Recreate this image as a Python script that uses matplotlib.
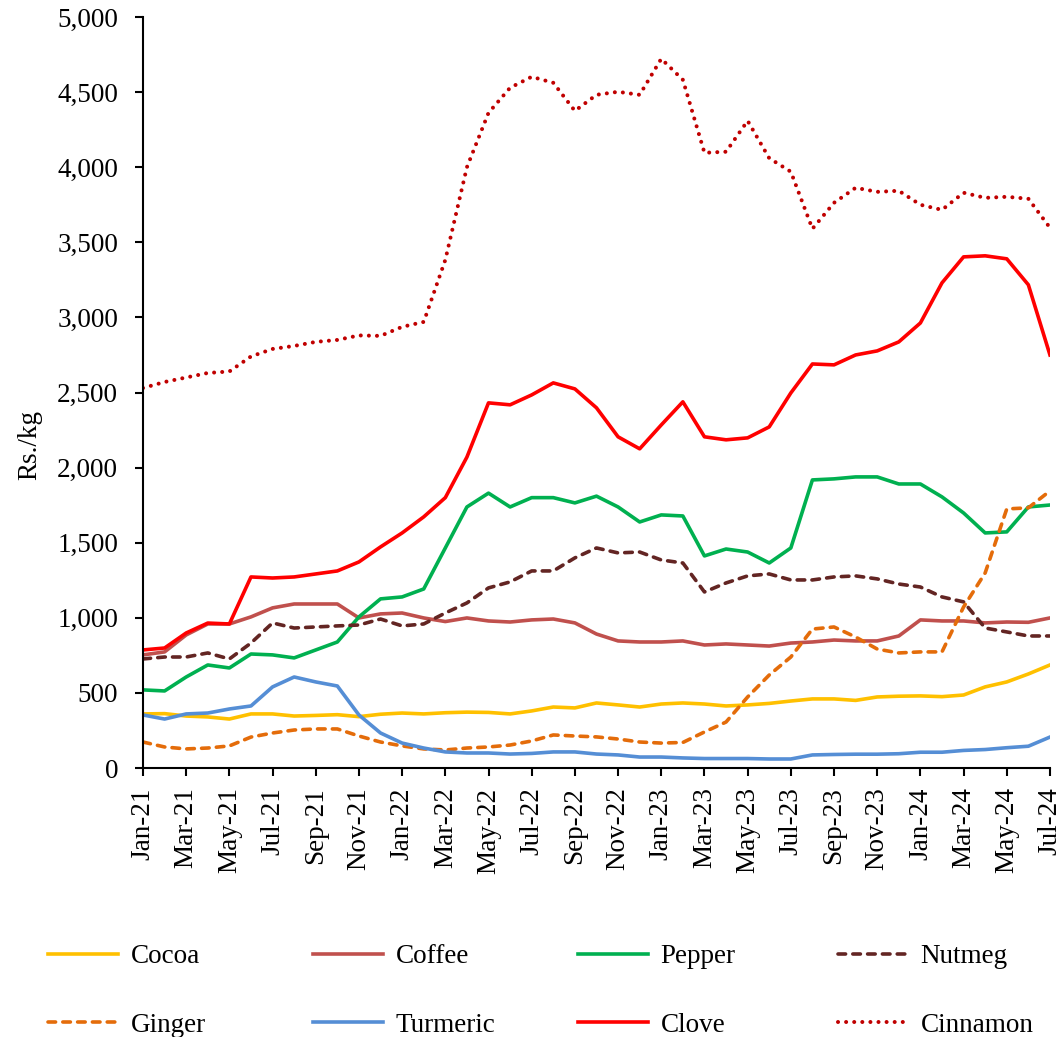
import matplotlib.pyplot as plt
import pandas as pd

months = pd.date_range('2021-01-01', '2024-07-01', freq='MS').strftime('%b-%y').tolist()

cocoa = [360, 362, 346, 340, 326, 360, 360, 346, 350, 355, 342, 358, 366, 360, 368, 372,
         370, 360, 380, 406, 400, 433, 420, 406, 426, 433, 426, 413, 420, 430,
         446, 460, 460, 450, 473, 478, 480, 475, 486, 540, 573, 626, 686]
coffee = [753, 773, 886, 959, 959, 1006, 1066, 1092, 1092, 1092, 999, 1026, 1032, 999, 975, 999,
          979, 972, 986, 992, 966, 892, 846, 839, 839, 846, 819, 826, 819, 812,
          832, 839, 852, 846, 846, 879, 986, 979, 979, 966, 972, 970, 999]
pepper = [520, 513, 606, 686, 666, 759, 753, 733, 786, 839, 1006, 1126, 1139, 1192, 1465, 1738,
          1830, 1738, 1800, 1800, 1765, 1810, 1738, 1638, 1685, 1678, 1412, 1458, 1438, 1365,
          1465, 1918, 1925, 1938, 1938, 1891, 1891, 1805, 1698, 1565, 1572, 1738, 1751]
nutmeg = [726, 739, 739, 766, 726, 832, 966, 932, 939, 946, 952, 992, 946, 959, 1032, 1099,
          1199, 1239, 1312, 1312, 1399, 1465, 1432, 1438, 1385, 1365, 1172, 1232, 1279, 1292,
          1252, 1252, 1272, 1279, 1259, 1225, 1205, 1139, 1106, 932, 906, 879, 879]
ginger = [173, 140, 127, 133, 147, 206, 233, 253, 260, 260, 213, 173, 147, 127, 120, 133,
          140, 153, 180, 220, 213, 207, 193, 173, 166, 170, 240, 306, 473, 619,
          739, 925, 939, 872, 792, 766, 773, 773, 1072, 1299, 1725, 1732, 1845]
turmeric = [353, 326, 360, 366, 393, 413, 540, 606, 573, 546, 353, 233, 166, 133, 107, 100,
            100, 93, 97, 107, 107, 93, 87, 73, 73, 67, 63, 63, 63, 60,
            60, 87, 90, 92, 92, 95, 105, 105, 117, 123, 135, 145, 206]
clove = [786, 799, 899, 965, 959, 1272, 1265, 1272, 1292, 1312, 1372, 1472, 1565, 1672, 1800, 2070,
         2431, 2418, 2484, 2564, 2524, 2398, 2205, 2125, 2284, 2438, 2205, 2185, 2198, 2271,
         2497, 2690, 2684, 2750, 2777, 2837, 2963, 3230, 3403, 3410, 3390, 3217, 2750]
cinnamon = [2530, 2570, 2600, 2630, 2640, 2740, 2790, 2810, 2837, 2850, 2880, 2877, 2937, 2970, 3383, 4000,
            4362, 4529, 4602, 4562, 4375, 4482, 4502, 4482, 4722, 4582, 4096, 4103, 4309, 4060,
            3970, 3590, 3763, 3863, 3836, 3843, 3750, 3716, 3830, 3796, 3803, 3790, 3597]

plt.rcParams['font.family'] = ['Liberation Serif']
fs = 19.5

fig = plt.figure(figsize=(10.64, 10.37), dpi=100)
ax = fig.add_axes([0.1344, 0.2594, 0.8524, 0.7242])

x = range(len(months))
lw = 2.6
dash = dict(ls=(0, (2.1, 2.0)), dash_capstyle='round')
lines = {}
lines['Cocoa'] = ax.plot(x, cocoa, color='#FFC000', lw=lw)[0]
lines['Coffee'] = ax.plot(x, coffee, color='#C0504D', lw=lw)[0]
lines['Pepper'] = ax.plot(x, pepper, color='#00B050', lw=lw)[0]
lines['Nutmeg'] = ax.plot(x, nutmeg, color='#632523', lw=lw, **dash)[0]
lines['Ginger'] = ax.plot(x, ginger, color='#E46C0A', lw=lw, **dash)[0]
lines['Turmeric'] = ax.plot(x, turmeric, color='#558ED5', lw=lw)[0]
lines['Clove'] = ax.plot(x, clove, color='#FF0000', lw=lw)[0]
lines['Cinnamon'] = ax.plot(x, cinnamon, color='#C00000', lw=2.9, ls=(0, (0.01, 2.0)),
                            dash_capstyle='round')[0]

ax.set_xlim(0, len(months) - 1)
ax.set_ylim(0, 5000)
ax.set_yticks(range(0, 5001, 500))
ax.set_yticklabels([f'{v:,}' for v in range(0, 5001, 500)], fontsize=fs)
ax.set_xticks(list(x)[::2])
ax.set_xticklabels(months[::2], rotation=90, fontsize=fs)
ax.set_ylabel('Rs./kg', fontsize=fs)
ax.yaxis.set_label_coords(-0.111, 0.43)

for s in ['top', 'right']:
    ax.spines[s].set_visible(False)
for s in ['left', 'bottom']:
    ax.spines[s].set_linewidth(1.5)
ax.tick_params(direction='out', length=6, width=1.5)
ax.tick_params(axis='y', pad=12)
ax.tick_params(axis='x', pad=8)

# legend: four columns, two rows
columns = [['Cocoa', 'Ginger'], ['Coffee', 'Turmeric'], ['Pepper', 'Clove'], ['Nutmeg', 'Cinnamon']]
col_x = [48, 313, 578, 838]
for names, cx in zip(columns, col_x):
    fig.legend([lines[n] for n in names], names, loc='center left',
               bbox_to_anchor=(cx / 1064, 1 - 991 / 1037), frameon=False,
               fontsize=fs, handlelength=2.6, handletextpad=0.45,
               labelspacing=1.6, borderpad=0, borderaxespad=0)

fig.savefig('out.png')
